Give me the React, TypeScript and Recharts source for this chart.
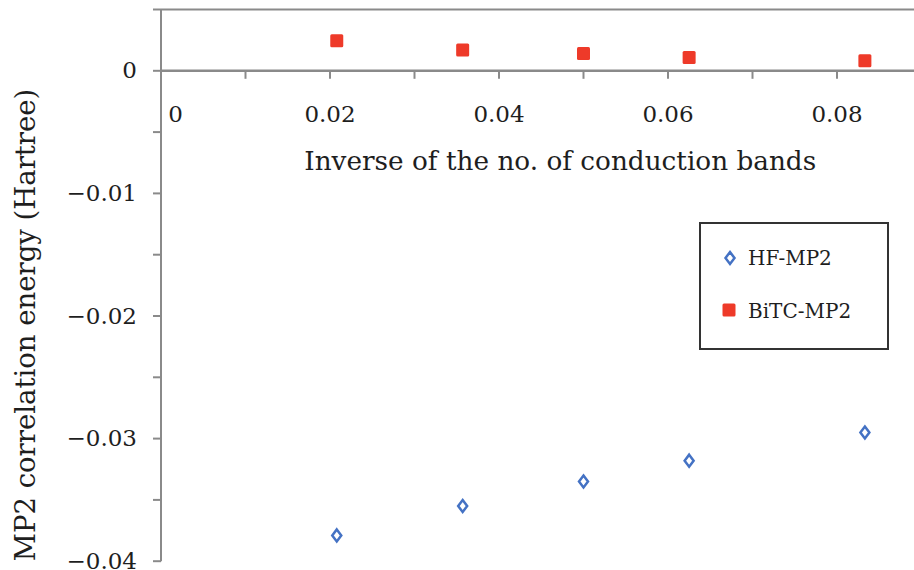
import { ScatterChart, Scatter, XAxis, YAxis, ReferenceLine, Legend } from "recharts";

const invBands = [0.0208, 0.0357, 0.05, 0.0625, 0.0833];
const hfMp2 = [-0.0379, -0.0355, -0.0335, -0.0318, -0.0295];
const bitcMp2 = [0.00245, 0.0017, 0.00142, 0.00109, 0.00082];

const yTicks = [-0.04, -0.035, -0.03, -0.025, -0.02, -0.015, -0.01, -0.005, 0, 0.005];
const yLabelTicks = [-0.04, -0.03, -0.02, -0.01, 0];
const xTickMarks = [0.01, 0.02, 0.03, 0.04, 0.05, 0.06, 0.07, 0.08, 0.09];
const xTickLabels = [0, 0.02, 0.04, 0.06, 0.08];

const FONT = "'DejaVu Serif', serif";
const AXIS = "#8a8a8a";
const TEXT = "#1e1e1e";
const BLUE = "#4472c4";
const RED = "#ee3a29";

const hfData = invBands.map((x, i) => ({ x, y: hfMp2[i] }));
const bitcData = invBands.map((x, i) => ({ x, y: bitcMp2[i] }));
const tickMarkData = xTickMarks.map((x) => ({ x, y: 0 }));
const tickLabelData = xTickLabels.map((x) => ({ x, y: 0 }));

const fmtY = (v: number) => (v === 0 ? "0" : "\u2212" + Math.abs(v).toFixed(2));
const fmtX = (v: number) => (v === 0 ? "0" : v.toFixed(2));

function Diamond({ cx, cy }: any) {
  return (
    <polygon
      points={`${cx},${cy - 6} ${cx + 4.5},${cy} ${cx},${cy + 6} ${cx - 4.5},${cy}`}
      fill="#fff"
      stroke={BLUE}
      strokeWidth={2.5}
    />
  );
}

function Square({ cx, cy }: any) {
  return <rect x={cx - 6.5} y={cy - 6.5} width={13} height={13} rx={1.5} fill={RED} />;
}

function TickMark({ cx, cy }: any) {
  return <line x1={cx} y1={cy} x2={cx} y2={cy + 8} stroke={AXIS} strokeWidth={2} />;
}

function TickLabel({ cx, cy, payload }: any) {
  const v = payload.x;
  return (
    <text
      x={v === 0 ? cx + 14.5 : cx}
      y={cy + 51}
      textAnchor="middle"
      fontFamily={FONT}
      fontSize={23}
      fill={TEXT}
    >
      {fmtX(v)}
    </text>
  );
}

function YTick({ x, y, payload }: any) {
  if (!yLabelTicks.includes(payload.value)) return null;
  return (
    <text x={x} y={y} dy={7.5} textAnchor="end" fontFamily={FONT} fontSize={23} fill={TEXT}>
      {fmtY(payload.value)}
    </text>
  );
}

function LegendBox() {
  return (
    <svg width={190} height={128} style={{ display: "block" }}>
      <rect x={1} y={1} width={188} height={126} fill="#fff" stroke="#333" strokeWidth={2} />
      <Diamond cx={31} cy={36} />
      <text x={49} y={43} fontFamily={FONT} fontSize={20} fill={TEXT}>
        HF-MP2
      </text>
      <Square cx={30} cy={88} />
      <text x={49} y={96} fontFamily={FONT} fontSize={20} fill={TEXT}>
        BiTC-MP2
      </text>
    </svg>
  );
}

export default function App() {
  return (
    <div
      style={{
        position: "absolute",
        left: 0,
        top: 0,
        width: 914,
        height: 570,
        overflow: "hidden",
        background: "#fff",
      }}
    >
      <ScatterChart width={940} height={570} margin={{ top: 9.5, right: 18.5, bottom: 8.8, left: 0 }}>
        <XAxis type="number" dataKey="x" domain={[0, 0.09]} hide />
        <YAxis
          type="number"
          dataKey="y"
          domain={[-0.04, 0.005]}
          ticks={yTicks}
          interval={0}
          width={161}
          tickSize={8}
          tickMargin={16}
          stroke={AXIS}
          strokeWidth={2}
          tickLine={{ stroke: AXIS, strokeWidth: 2 }}
          tick={<YTick />}
          label={{
            content: () => (
              <text
                x={35}
                y={325}
                transform="rotate(-90, 35, 325)"
                textAnchor="middle"
                fontFamily={FONT}
                fontSize={27.5}
                fill={TEXT}
              >
                MP2 correlation energy (Hartree)
              </text>
            ),
          }}
        />
        <ReferenceLine y={0.005} stroke={AXIS} strokeWidth={2} />
        <ReferenceLine
          y={0}
          stroke={AXIS}
          strokeWidth={2.5}
          label={{
            content: (p: any) => (
              <text
                x={p.viewBox.x + p.viewBox.width / 2 + 19}
                y={p.viewBox.y + 99}
                textAnchor="middle"
                fontFamily={FONT}
                fontSize={26.3}
                fill={TEXT}
              >
                Inverse of the no. of conduction bands
              </text>
            ),
          }}
        />
        <Scatter data={tickMarkData} shape={<TickMark />} isAnimationActive={false} legendType="none" />
        <Scatter data={tickLabelData} shape={<TickLabel />} isAnimationActive={false} legendType="none" />
        <Scatter name="HF-MP2" data={hfData} shape={<Diamond />} isAnimationActive={false} />
        <Scatter name="BiTC-MP2" data={bitcData} shape={<Square />} isAnimationActive={false} />
        <Legend
          layout="horizontal"
          verticalAlign="middle"
          align="center"
          content={() => <LegendBox />}
          wrapperStyle={{ left: 699, top: 222, width: 190, height: 128 }}
        />
      </ScatterChart>
    </div>
  );
}
